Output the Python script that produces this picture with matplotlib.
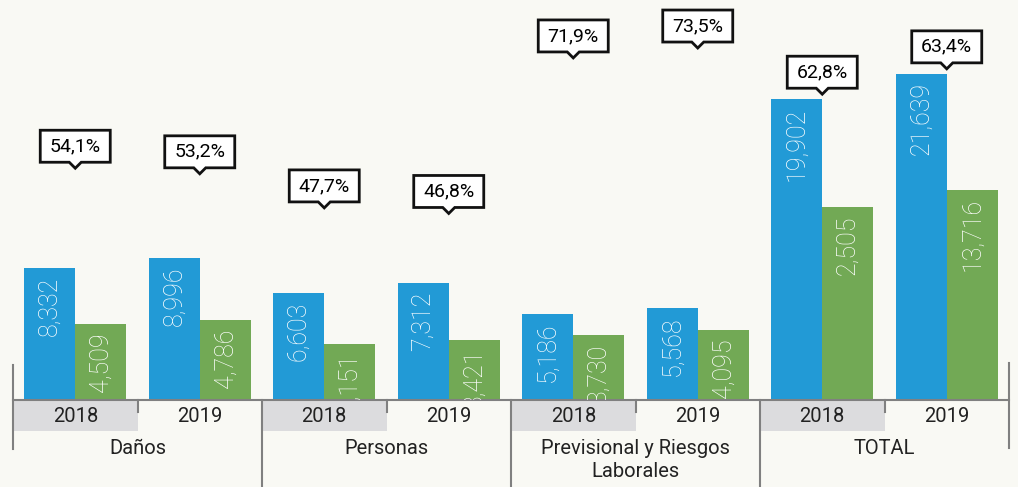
import matplotlib
matplotlib.use("Agg")
import matplotlib.pyplot as plt
import matplotlib.transforms as mtransforms
from matplotlib.patches import Polygon, Rectangle

# Data
groups = ["Daños", "Personas", "Previsional y Riesgos\nLaborales", "TOTAL"]
years = ["2018", "2019"]
blue_vals = [8332, 8996, 6603, 7312, 5186, 5568, 19902, 21639]
green_vals = [4509, 4786, 3151, 3421, 3730, 4095, 12505, 13716]
blue_labels = ["8,332", "8,996", "6,603", "7,312", "5,186", "5,568", "19,902", "21,639"]
green_labels = ["4,509", "4,786", "3,151", "3,421", "3,730", "4,095", "2,505", "13,716"]
pct_labels = ["54,1%", "53,2%", "47,7%", "46,8%", "71,9%", "73,5%", "62,8%", "63,4%"]
pct_vals = [54.1, 53.2, 47.7, 46.8, 71.9, 73.5, 62.8, 63.4]

BLUE = "#229AD6"
GREEN = "#72A955"
BG = "#F9F9F4"
LINE = "#808080"
BAND = "#DCDCDE"
TXT = "#222222"

W, H = 1018, 487
fig = plt.figure(figsize=(W / 100, H / 100), dpi=100, facecolor=BG)
plt.rcParams["font.family"] = ["Roboto", "DejaVu Sans"]

x0, x1, base = 13, 1009, 400
scale = 0.0146           # pixels per unit
floor = -700             # value axis does not start at zero in the original
ax = fig.add_axes([x0 / W, (H - base) / H, (x1 - x0) / W, base / H])
ax.set_facecolor("none")
ax.set_xlim(0, 8)
ax.set_ylim(floor, floor + base / scale)
ax.axis("off")

# hidden axis for the percentage callouts
ax2 = ax.twinx()
ax2.set_ylim(16.7, 81.25)
ax2.axis("off")

n = len(blue_vals)
bw = 0.41
centers = [i + 0.5 for i in range(n)]
ax.bar([c - bw / 2 for c in centers], [v - floor for v in blue_vals], bottom=floor,
       width=bw, color=BLUE)
ax.bar([c + bw / 2 for c in centers], [v - floor for v in green_vals], bottom=floor,
       width=bw, color=GREEN)

ident = mtransforms.IdentityTransform()
off = mtransforms.ScaledTranslation(0, -6 / 72, fig.dpi_scale_trans)

for i, c in enumerate(centers):
    for xb, v, lab in ((c - bw / 2, blue_vals[i], blue_labels[i]),
                       (c + bw / 2, green_vals[i], green_labels[i])):
        t = ax.text(xb, v, lab, rotation=90, ha="center", va="top", color="white",
                    fontsize=18, fontweight="light", transform=ax.transData + off)
        t.set_clip_on(True)

# callouts
for i, c in enumerate(centers):
    cx, ty = ax2.transData.transform((c, pct_vals[i]))
    _, bar_top = ax.transData.transform((c, max(blue_vals[i], green_vals[i])))
    ty = max(ty, bar_top + 5)
    b = ty + 6
    pts = [(cx - 35, b), (cx - 6, b), (cx, ty), (cx + 6, b), (cx + 35, b),
           (cx + 35, b + 32), (cx - 35, b + 32)]
    fig.add_artist(Polygon(pts, closed=True, facecolor="white", edgecolor="#111111",
                           linewidth=2, transform=ident, joinstyle="miter"))
    fig.text(cx, b + 16, pct_labels[i], transform=ident, ha="center", va="center",
             fontsize=14, color="black")

# category axis drawn below the bars
tr = mtransforms.blended_transform_factory(ax.transData, fig.transFigure)


def fy(p):
    return 1 - p / H


for g in range(len(groups)):
    ax.add_patch(Rectangle((2 * g, fy(431)), 1, fy(401) - fy(431), facecolor=BAND,
                           edgecolor="none", transform=tr, clip_on=False))
    for k, yr in enumerate(years):
        ax.text(2 * g + k + 0.5, fy(416), yr, transform=tr, ha="center", va="center",
                fontsize=14.5, color=TXT)
    ax.text(2 * g + 1, fy(439), groups[g], transform=tr, ha="center", va="top",
            fontsize=14.5, color=TXT, linespacing=1.25)
    # small tick between years
    ax.plot([2 * g + 1, 2 * g + 1], [fy(400), fy(412)], color=LINE, lw=1.5,
            transform=tr, clip_on=False)
    # group dividers
    if g > 0:
        ax.plot([2 * g, 2 * g], [fy(400), fy(487)], color=LINE, lw=1.5,
                transform=tr, clip_on=False)

ax.plot([0, 8], [fy(400), fy(400)], color=LINE, lw=1.5, transform=tr, clip_on=False)
ax.plot([0, 0], [fy(365), fy(449)], color=LINE, lw=1.5, transform=tr, clip_on=False)
ax.plot([8, 8], [fy(363), fy(448)], color=LINE, lw=1.5, transform=tr, clip_on=False)

fig.savefig("out.png", dpi=100, facecolor=BG)
